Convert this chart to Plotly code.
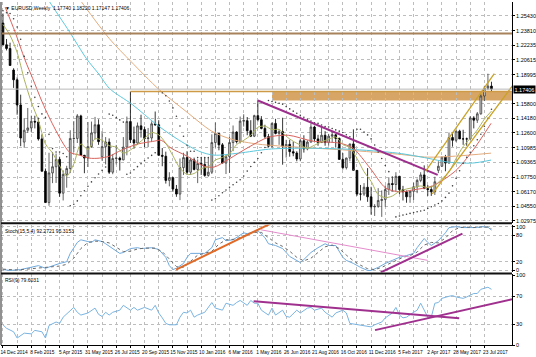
import plotly.graph_objects as go

# ---------------- data ----------------
bars = list(range(139))
date_ticks = list(range(0, 137, 8))
date_labels = ["14 Dec 2014", "8 Feb 2015", "5 Apr 2015", "31 May 2015", "26 Jul 2015",
               "20 Sep 2015", "15 Nov 2015", "10 Jan 2016", "6 Mar 2016", "1 May 2016",
               "26 Jun 2016", "21 Aug 2016", "16 Oct 2016", "11 Dec 2016", "5 Feb 2017",
               "2 Apr 2017", "28 May 2017", "23 Jul 2017"]

opens = [1.2465,1.2227,1.2186,1.1950,1.1843,1.1567,1.1160,1.1290,1.1315,1.1387,
         1.1380,1.1195,1.0840,1.0497,1.0822,1.0890,1.0970,1.0600,1.0806,1.0870,
         1.1200,1.1200,1.1447,1.1015,1.0985,1.1110,1.1260,1.1350,1.1000,1.1110,
         1.1160,1.0830,1.0980,1.0985,1.0965,1.1105,1.1385,1.1185,1.1150,1.1338,
         1.1297,1.1200,1.1205,1.1360,1.1350,1.1015,1.1005,1.0740,1.0770,1.0645,
         1.0590,1.0880,1.0990,1.0830,1.0965,1.0860,1.0925,1.0915,1.0795,1.0830,
         1.1155,1.1255,1.1130,1.0930,1.1000,1.1155,1.1270,1.1165,1.1390,1.1395,
         1.1285,1.1225,1.1450,1.1405,1.1310,1.1220,1.1115,1.1365,1.1255,1.1275,
         1.1115,1.1135,1.1055,1.1040,1.0975,1.1175,1.1085,1.1160,1.1325,1.1195,
         1.1155,1.1235,1.1155,1.1225,1.1240,1.1200,1.0970,1.0880,1.0985,1.1140,
         1.0850,1.0590,1.0590,1.0665,1.0560,1.0450,1.0455,1.0520,1.0530,1.0640,
         1.0705,1.0695,1.0785,1.0640,1.0615,1.0560,1.0620,1.0670,1.0740,1.0800,
         1.0650,1.0640,1.0615,1.0850,1.0895,1.0995,1.0930,1.1210,1.1180,1.1280,
         1.1195,1.1195,1.1195,1.1425,1.1400,1.1470,1.1665,1.1750,1.1774]
highs = [1.2570,1.2290,1.2250,1.1970,1.1870,1.1680,1.1423,1.1534,1.1450,1.1449,
         1.1428,1.1245,1.0870,1.1043,1.1052,1.1035,1.1000,1.0850,1.0900,1.1290,
         1.1390,1.1467,1.1460,1.1020,1.1380,1.1385,1.1436,1.1410,1.1280,1.1215,
         1.1200,1.1030,1.1129,1.1000,1.1215,1.1440,1.1714,1.1330,1.1375,1.1460,
         1.1330,1.1315,1.1387,1.1495,1.1400,1.1095,1.1055,1.0830,1.0780,1.0690,
         1.0980,1.1043,1.1060,1.0990,1.0990,1.0970,1.0990,1.0990,1.0985,1.1245,
         1.1375,1.1260,1.1150,1.1020,1.1218,1.1342,1.1280,1.1440,1.1465,1.1435,
         1.1400,1.1460,1.1616,1.1445,1.1350,1.1250,1.1375,1.1415,1.1300,1.1427,
         1.1185,1.1185,1.1165,1.1060,1.1195,1.1235,1.1180,1.1365,1.1340,1.1240,
         1.1326,1.1280,1.1250,1.1280,1.1250,1.1210,1.1040,1.0990,1.1140,1.1300,
         1.0850,1.0690,1.0710,1.0875,1.0670,1.0480,1.0655,1.0630,1.0685,1.0775,
         1.0775,1.0830,1.0790,1.0680,1.0630,1.0630,1.0715,1.0760,1.0830,1.0905,
         1.0690,1.0680,1.0780,1.0950,1.1000,1.1020,1.1265,1.1270,1.1285,1.1295,
         1.1295,1.1210,1.1445,1.1445,1.1490,1.1683,1.1777,1.1910,1.1822]
lows = [1.2247,1.2165,1.2000,1.1754,1.1460,1.1115,1.1098,1.1260,1.1270,1.1310,
        1.1176,1.0840,1.0494,1.0462,1.0710,1.0712,1.0560,1.0520,1.0660,1.0820,
        1.1050,1.1150,1.1050,1.0819,1.0887,1.1100,1.1190,1.1130,1.0955,1.0915,
        1.0810,1.0808,1.0915,1.0848,1.0960,1.1015,1.1150,1.1087,1.1130,1.1210,
        1.1105,1.1105,1.1160,1.1340,1.1010,1.0895,1.0705,1.0675,1.0615,1.0560,
        1.0524,1.0800,1.0805,1.0800,1.0850,1.0710,1.0800,1.0780,1.0780,1.0810,
        1.1100,1.1070,1.0925,1.0810,1.0822,1.1060,1.1145,1.1145,1.1330,1.1235,
        1.1215,1.1215,1.1385,1.1300,1.1200,1.1100,1.1100,1.1245,1.1130,1.0912,
        1.0990,1.1000,1.1005,1.0950,1.0950,1.1045,1.1070,1.1155,1.1170,1.1120,
        1.1150,1.1120,1.1120,1.1160,1.1100,1.0970,1.0860,1.0860,1.0950,1.0850,
        1.0570,1.0520,1.0570,1.0505,1.0365,1.0350,1.0440,1.0340,1.0450,1.0580,
        1.0620,1.0620,1.0590,1.0520,1.0495,1.0495,1.0525,1.0600,1.0720,1.0650,
        1.0570,1.0570,1.0580,1.0820,1.0890,1.0840,1.0925,1.1110,1.1160,1.1195,
        1.1130,1.1120,1.1185,1.1310,1.1370,1.1460,1.1610,1.1730,1.1715]
closes = [1.2227,1.2186,1.2000,1.1843,1.1567,1.1205,1.1290,1.1315,1.1387,1.1380,
          1.1195,1.0840,1.0497,1.0822,1.0890,1.0970,1.0600,1.0806,1.0870,1.1200,
          1.1200,1.1447,1.1015,1.0985,1.1110,1.1260,1.1350,1.1165,1.1110,1.1160,
          1.0830,1.0980,1.0985,1.0965,1.1105,1.1385,1.1185,1.1150,1.1338,1.1297,
          1.1200,1.1205,1.1360,1.1350,1.1015,1.1005,1.0740,1.0770,1.0645,1.0590,
          1.0880,1.0990,1.0830,1.0965,1.0860,1.0925,1.0915,1.0795,1.0830,1.1155,
          1.1255,1.1130,1.0930,1.1000,1.1155,1.1270,1.1165,1.1390,1.1395,1.1285,
          1.1225,1.1450,1.1405,1.1310,1.1220,1.1115,1.1365,1.1255,1.1275,1.1115,
          1.1135,1.1055,1.1040,1.0975,1.1175,1.1085,1.1160,1.1325,1.1195,1.1155,
          1.1235,1.1155,1.1225,1.1240,1.1200,1.0970,1.0880,1.0985,1.1140,1.0850,
          1.0590,1.0590,1.0665,1.0560,1.0450,1.0455,1.0520,1.0530,1.0640,1.0705,
          1.0695,1.0785,1.0640,1.0615,1.0560,1.0620,1.0670,1.0740,1.0800,1.0650,
          1.0640,1.0615,1.0725,1.0895,1.0995,1.0930,1.1210,1.1180,1.1280,1.1195,
          1.1195,1.1195,1.1425,1.1400,1.1470,1.1665,1.1750,1.1774,1.1741]

# moving averages (bar position, price)
red_bars = [0.6, 3.4, 6.2, 8.4, 11.0, 13.2, 16.6, 18.8, 21.6, 24.4, 27.2, 30.1, 33.4, 37.9, 42.7,
            44.7, 47.5, 52.0, 56.7, 59.6, 63.8, 69.4, 75.0, 80.6, 87.6, 95.2, 98.9, 103.7, 108.1,
            112.1, 115.7, 121.3, 127.8, 132.6, 137.9]
red_vals = [1.2641, 1.2369, 1.2063, 1.1856, 1.1606, 1.1420, 1.1170, 1.1050, 1.1017, 1.0984, 1.0984,
            1.1006, 1.1071, 1.1137, 1.1170, 1.1180, 1.1093, 1.1006, 1.0897, 1.0886, 1.0973, 1.1104,
            1.1213, 1.1235, 1.1170, 1.1148, 1.1093, 1.0875, 1.0657, 1.0614, 1.0635, 1.0679, 1.0843,
            1.1061, 1.1366]
olive_bars = list(range(0, 139, 2))
olive_vals = [1.2450,1.2330,1.2142,1.1848,1.1599,1.1398,1.1139,1.1041,1.0899,1.0787,1.0920,1.1139,
              1.1079,1.1196,1.1180,1.1121,1.1105,1.1038,1.1074,1.1137,1.1203,1.1265,1.1239,1.1147,
              1.1011,1.0874,1.0806,1.0816,1.0869,1.0889,1.0963,1.0992,1.1031,1.1133,1.1179,1.1236,
              1.1323,1.1335,1.1297,1.1299,1.1224,1.1169,1.1128,1.1093,1.1126,1.1163,1.1192,1.1216,
              1.1133,1.1099,1.0982,1.0835,1.0729,1.0585,1.0551,1.0569,1.0621,1.0646,1.0661,1.0679,
              1.0662,1.0683,1.0758,1.0833,1.0979,1.1110,1.1201,1.1293,1.1412,1.1500]
cyan_bars = [11.5, 13.2, 18.8, 23.6, 27.2, 30.1, 36.5, 43.3, 48.9, 55.3, 59.6, 66.6, 75.0, 83.4,
             97.5, 111.5, 119.9, 125.6, 132.6, 137.9]
cyan_vals = [1.2805, 1.2696, 1.2369, 1.2074, 1.1900, 1.1747, 1.1573, 1.1355, 1.1202, 1.1061, 1.1017,
             1.1039, 1.1082, 1.1093, 1.1082, 1.1039, 1.0984, 1.0941, 1.0930, 1.0963]
tan_bars = [20.2, 22.2, 30.1, 36.2, 44.1, 51.7, 59.0, 64.6, 72.2, 83.4, 97.5, 111.5, 119.9, 127.8, 137.9]
tan_vals = [1.2805, 1.2696, 1.2292, 1.2042, 1.1736, 1.1497, 1.1279, 1.1191, 1.1137, 1.1104, 1.1071,
            1.1028, 1.0995, 1.1006, 1.1039]

# drawn objects
purple_main_bars = [72, 122.8]
purple_main_vals = [1.1616, 1.0800]
chan_up_bars = [119.4, 138.8]
chan_up_vals = [1.0842, 1.1911]
chan_lo_bars = [121.3, 144.4]
chan_lo_vals = [1.0592, 1.1802]
level_brown = 1.2350
level_bid = 1.17406
level_res = 1.1714
res_start_bar = 36
zone_low, zone_high, zone_start_bar = 1.1616, 1.1714, 76

price_ticks = [1.25430, 1.23810, 1.22235, 1.20615, 1.18995, 1.15800, 1.14180, 1.12600,
               1.10985, 1.09365, 1.07750, 1.06170, 1.04550, 1.02975]
price_tick_text = ["1.25430", "1.23810", "1.22235", "1.20615", "1.18995", "1.15800", "1.14180",
                   "1.12600", "1.10985", "1.09365", "1.07750", "1.06170", "1.04550", "1.02975"]

# Stochastic (15,5,4)
stoch_bars = [0,2,5,8,10,12,14,16,18,19,21,22,24,25,26,28,29,31,33,34,36,38,39,42,44,46,47,48,49,
              51,52,53,55,57,59,60,62,63,65,67,68,69,71,72,74,75,77,79,81,83,84,85,87,89,91,92,94,
              96,97,99,101,103,104,106,108,110,112,114,116,117,119,120,121,123,125,126,128,130,132,
              134,135,137,138]
stoch_main = [2,0,2,7,11,5,11,16,20,39,64,70,66,64,70,66,61,50,39,41,50,52,50,52,48,30,11,2,5,
              16,30,39,39,39,52,70,75,68,70,82,86,84,89,91,75,61,57,50,32,23,18,25,41,52,61,57,57,
              30,23,16,7,0,0,7,16,23,30,34,39,52,73,64,57,68,86,98,100,98,98,98,100,99,92]
sig_bars = [0,4,8,12,16,18,20,22,24,26,28,30,32,34,36,38,40,43,45,47,49,51,53,55,57,59,61,63,65,67,
            69,71,73,75,77,79,81,83,85,87,89,91,93,95,97,99,101,103,105,107,109,111,113,115,117,119,
            121,123,125,127,129,131,133,135,137,138]
stoch_signal = [3,1,4,7,10,14,28,50,64,67,66,63,52,43,44,49,51,51,43,25,9,7,22,35,39,44,60,70,71,75,
                83,87,87,76,63,55,44,30,22,28,42,54,58,50,35,22,12,4,2,7,15,23,30,34,42,58,64,63,74,
                91,98,99,98,99,99,95]
stoch_orange_bars, stoch_orange_vals = [48.9, 75.6], [2, 107]
stoch_pink_bars, stoch_pink_vals = [72.8, 120.0], [93, 23]
stoch_purple_bars, stoch_purple_vals = [106.7, 129.8], [-4.5, 84]

# RSI(9)
rsi_bars = [0,1,3,4,6,8,9,11,12,13,15,16,17,19,20,21,22,24,25,26,27,28,29,30,31,33,34,35,36,37,38,40,
            42,43,44,45,46,47,49,50,51,52,53,54,55,57,58,59,60,62,63,65,66,67,69,70,71,72,73,75,76,77,
            79,80,81,83,84,86,87,88,90,91,93,94,96,97,98,100,101,103,104,105,107,108,110,111,112,113,
            114,116,117,118,119,120,121,122,123,124,126,127,128,130,131,133,134,135,137,138]
rsi_vals = [29,24,19,10,17,16,21,19,10,28,33,31,40,50,54,47,43,46,50,53,44,41,47,43,47,50,57,53,50,54,
            50,54,50,57,46,39,31,29,29,40,47,46,50,40,43,47,54,61,53,50,60,57,61,64,57,64,60,60,50,43,
            53,43,50,41,40,50,46,53,54,50,53,47,40,46,50,46,31,29,29,26,26,29,33,39,46,54,43,39,40,47,
            50,60,50,40,40,60,61,67,70,71,69,67,69,74,74,80,83,80]
rsi_p1_bars, rsi_p1_vals = [70.8, 128.9], [62.9, 38.6]
rsi_p2_bars, rsi_p2_vals = [105.1, 143.8], [21.4, 65.7]


def parabolic_sar(h, l, step=0.02, amax=0.2):
    sar = [0.0] * len(h)
    up, af, ep, s = False, 0.06, l[0], 1.2600
    sar[0] = s
    for i in range(1, len(h)):
        s = s + af * (ep - s)
        if up:
            s = min(s, l[i - 1], l[max(i - 2, 0)])
            if l[i] < s:
                up, s, ep, af = False, ep, l[i], step
            elif h[i] > ep:
                ep, af = h[i], min(af + step, amax)
        else:
            s = max(s, h[i - 1], h[max(i - 2, 0)])
            if h[i] > s:
                up, s, ep, af = True, ep, h[i], step
            elif l[i] < ep:
                ep, af = l[i], min(af + step, amax)
        sar[i] = s
    return sar


psar = parabolic_sar(highs, lows)

# ---------------- figure ----------------
FONT = "Liberation Sans"
fig = go.Figure()

fig.add_trace(go.Candlestick(
    x=bars, open=opens, high=highs, low=lows, close=closes,
    increasing=dict(line=dict(color="#3c3c3c", width=0.8), fillcolor="#d6d6d6"),
    decreasing=dict(line=dict(color="#000000", width=0.8), fillcolor="#000000"),
    whiskerwidth=0, xaxis="x", yaxis="y", hoverinfo="skip", showlegend=False))

for bx, vy, col in [(tan_bars, tan_vals, "#e3ab7c"), (cyan_bars, cyan_vals, "#5cc6da"),
                    (red_bars, red_vals, "#d8625c"), (olive_bars, olive_vals, "#aab25e")]:
    fig.add_trace(go.Scatter(x=bx, y=vy, mode="lines", line=dict(color=col, width=1, shape="spline",
                                                                   smoothing=0.8),
                             xaxis="x", yaxis="y", hoverinfo="skip", showlegend=False))

fig.add_trace(go.Scatter(x=bars, y=psar, mode="markers", marker=dict(size=1.6, color="#404040"),
                         xaxis="x", yaxis="y", hoverinfo="skip", showlegend=False))

for bx, vy, col, w in [(purple_main_bars, purple_main_vals, "#9c2f8c", 2),
                       (chan_up_bars, chan_up_vals, "#c9a227", 1.3),
                       (chan_lo_bars, chan_lo_vals, "#c9a227", 1.3)]:
    fig.add_trace(go.Scatter(x=bx, y=vy, mode="lines", line=dict(color=col, width=w),
                             xaxis="x", yaxis="y", hoverinfo="skip", showlegend=False))

# stochastic
fig.add_trace(go.Scatter(x=stoch_bars, y=stoch_main, mode="lines", line=dict(color="#6fa9dc", width=1),
                         xaxis="x2", yaxis="y2", hoverinfo="skip", showlegend=False))
fig.add_trace(go.Scatter(x=sig_bars, y=stoch_signal, mode="lines",
                         line=dict(color="#6a6a6a", width=1, dash="dot"),
                         xaxis="x2", yaxis="y2", hoverinfo="skip", showlegend=False))
for bx, vy, col, w in [(stoch_orange_bars, stoch_orange_vals, "#e06a28", 2),
                       (stoch_pink_bars, stoch_pink_vals, "#e48ccc", 1),
                       (stoch_purple_bars, stoch_purple_vals, "#a0308e", 2)]:
    fig.add_trace(go.Scatter(x=bx, y=vy, mode="lines", line=dict(color=col, width=w),
                             xaxis="x2", yaxis="y2", hoverinfo="skip", showlegend=False))

# RSI
fig.add_trace(go.Scatter(x=rsi_bars, y=rsi_vals, mode="lines", line=dict(color="#7ab4e0", width=1),
                         xaxis="x3", yaxis="y3", hoverinfo="skip", showlegend=False))
for bx, vy in [(rsi_p1_bars, rsi_p1_vals), (rsi_p2_bars, rsi_p2_vals)]:
    fig.add_trace(go.Scatter(x=bx, y=vy, mode="lines", line=dict(color="#a0308e", width=2),
                             xaxis="x3", yaxis="y3", hoverinfo="skip", showlegend=False))

XR = [-0.56, 143.8]
grid_vals = list(range(0, 140, 4))
grid = dict(showgrid=True, gridcolor="#bdbdbd", griddash="dot", gridwidth=1, zeroline=False)
common_x = dict(range=XR, tickmode="array", tickvals=grid_vals, **grid)
tickf = dict(family=FONT, size=5.5, color="#000")

shapes = [
    dict(type="rect", xref="x", yref="y", x0=zone_start_bar, x1=XR[1], y0=zone_low, y1=zone_high,
         fillcolor="rgba(212,158,90,0.92)", line=dict(width=0), layer="below"),
    dict(type="line", xref="paper", yref="y", x0=0, x1=1, y0=level_brown, y1=level_brown,
         line=dict(color="#a8825a", width=2)),
    dict(type="line", xref="paper", yref="y", x0=0, x1=1, y0=level_bid, y1=level_bid,
         line=dict(color="#b8b8b8", width=1)),
    dict(type="line", xref="x", yref="y", x0=res_start_bar, x1=XR[1], y0=level_res, y1=level_res,
         line=dict(color="#cf9a45", width=1.5)),
]
for yp, w in [(0.3551, 2), (0.2087, 2)]:
    shapes.append(dict(type="line", xref="paper", yref="paper", x0=0, x1=1, y0=yp, y1=yp,
                       line=dict(color="#111", width=w)))
shapes.append(dict(type="line", xref="paper", yref="paper", x0=0, x1=0, y0=0, y1=1,
                   line=dict(color="#222", width=1)))

fig.update_layout(
    width=536, height=357, margin=dict(l=1, r=21, t=0, b=12, pad=0),
    paper_bgcolor="white", plot_bgcolor="white", showlegend=False,
    font=dict(family=FONT, size=5.5, color="#000"),
    xaxis=dict(domain=[0, 1], anchor="y", showticklabels=False, rangeslider=dict(visible=False),
               **common_x),
    xaxis2=dict(domain=[0, 1], anchor="y2", matches="x", showticklabels=False, **common_x),
    xaxis3=dict(domain=[0, 1], anchor="y3", matches="x", showticklabels=True,
                ticktext=[date_labels[date_ticks.index(v)] if v in date_ticks else "" for v in grid_vals],
                tickfont=dict(family=FONT, size=4.8, color="#000"), tickangle=0, ticks="outside",
                ticklen=2, tickcolor="#000", ticklabelshift=11, showline=True, linecolor="#000",
                linewidth=1, **common_x),
    yaxis=dict(domain=[0.3565, 1], anchor="x", side="right", range=[1.0276, 1.2696],
               tickmode="array", tickvals=price_ticks, ticktext=price_tick_text, tickfont=tickf,
               ticks="outside", ticklen=2, tickcolor="#000", showline=True, linecolor="#000", **grid),
    yaxis2=dict(domain=[0.2116, 0.3507], anchor="x2", side="right", range=[-4.5, 104.5],
                tickmode="array", tickvals=[0, 20, 80, 100], ticktext=["0", "20", "80", "100"],
                tickfont=tickf, ticks="outside", ticklen=2, tickcolor="#000", showline=True,
                linecolor="#000", **grid),
    yaxis3=dict(domain=[0, 0.2058], anchor="x3", side="right", range=[0, 101.4],
                tickmode="array", tickvals=[0, 30, 70, 100], ticktext=["0", "30", "70", "100"],
                tickfont=tickf, ticks="outside", ticklen=2, tickcolor="#000", showline=True,
                linecolor="#000", **grid),
    shapes=shapes,
    annotations=[
        dict(text="\u25bc EURUSD,Weekly  1.17740 1.18220 1.17147 1.17406", xref="paper", yref="paper",
             x=0.004, y=1, xanchor="left", yanchor="top", yshift=-1, showarrow=False,
             font=dict(family=FONT, size=5, color="#000")),
        dict(text="Stoch(15,5,4) 92.2721 95.3153", xref="paper", yref="paper", x=0.004, y=0.3507,
             xanchor="left", yanchor="top", yshift=-1, showarrow=False,
             font=dict(family=FONT, size=5, color="#000")),
        dict(text="RSI(9) 79.6031", xref="paper", yref="paper", x=0.004, y=0.2058,
             xanchor="left", yanchor="top", yshift=-1, showarrow=False,
             font=dict(family=FONT, size=5, color="#000")),
        dict(text="1.17406", xref="paper", yref="y", x=1, y=level_bid, xanchor="left", xshift=1,
             showarrow=False, bgcolor="#000", borderpad=0.5,
             font=dict(family=FONT, size=5.5, color="#fff")),
    ],
)

fig.write_html("out.html")
